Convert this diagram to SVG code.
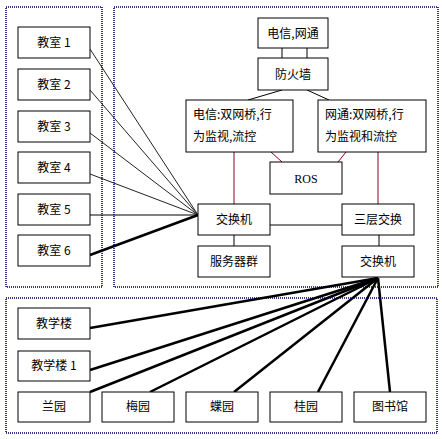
<svg xmlns="http://www.w3.org/2000/svg" width="442" height="439" viewBox="0 0 442 439">
<style>
.bx{fill:#fff;stroke:#000;stroke-width:1}
.zone{fill:none;stroke:#3a3a8c;stroke-width:2;stroke-dasharray:1 1}
text{font-family:"Noto Sans CJK SC","Liberation Sans",sans-serif;font-size:12px;fill:#000}
.c{text-anchor:middle}
.thin{stroke:#222;stroke-width:1;fill:none}
.thick{stroke:#000;stroke-width:2.5;fill:none}
.red{stroke:#900020;stroke-width:1;fill:none}
.blk{stroke:#000;stroke-width:1;fill:none}
</style>
<rect width="442" height="439" fill="#fff"/>
<g id="zones">
<rect class="zone" x="6" y="7" width="96" height="280"/>
<rect class="zone" x="114" y="7" width="324" height="280"/>
<rect class="zone" x="6" y="298" width="431" height="135"/>
</g>
<g id="connectors">
<line class="thin" x1="90" y1="49" x2="198" y2="215"/>
<line class="thin" x1="90" y1="90" x2="198" y2="215"/>
<line class="thin" x1="90" y1="133" x2="198" y2="215"/>
<line class="thin" x1="90" y1="174" x2="198" y2="215"/>
<line class="blk" x1="90" y1="215" x2="198" y2="215"/>
<line class="thick" x1="90" y1="255" x2="198" y2="215"/>
<line class="blk" x1="282" y1="48" x2="282" y2="58"/>
<line class="blk" x1="307" y1="48" x2="307" y2="58"/>
<line class="blk" x1="282" y1="90" x2="248" y2="100"/>
<line class="blk" x1="307" y1="90" x2="329" y2="100"/>
<line class="red" x1="234" y1="152" x2="234" y2="204"/>
<line class="red" x1="378" y1="152" x2="378" y2="204"/>
<line class="red" x1="271" y1="152" x2="282" y2="162"/>
<line class="red" x1="346" y1="152" x2="338" y2="162"/>
<line class="blk" x1="270" y1="225" x2="342" y2="225"/>
<line class="blk" x1="234" y1="235" x2="234" y2="246"/>
<line class="blk" x1="379" y1="235" x2="379" y2="246"/>
<line class="thick" x1="378" y1="278" x2="90" y2="328"/>
<line class="thick" x1="378" y1="278" x2="90" y2="370"/>
<line class="thick" x1="378" y1="278" x2="90" y2="392"/>
<line class="thick" x1="378" y1="278" x2="150" y2="392"/>
<line class="thick" x1="378" y1="278" x2="234" y2="392"/>
<line class="thick" x1="378" y1="278" x2="318" y2="392"/>
<line class="thick" x1="378" y1="278" x2="390" y2="392"/>
</g>
<g id="n_c1"><rect class="bx" x="18" y="27" width="72" height="31"/><text class="c" x="54" y="47">教室 1</text></g>
<g id="n_c2"><rect class="bx" x="18" y="69" width="72" height="31"/><text class="c" x="54" y="89">教室 2</text></g>
<g id="n_c3"><rect class="bx" x="18" y="111" width="72" height="31"/><text class="c" x="54" y="131">教室 3</text></g>
<g id="n_c4"><rect class="bx" x="18" y="152" width="72" height="31"/><text class="c" x="54" y="172">教室 4</text></g>
<g id="n_c5"><rect class="bx" x="18" y="194" width="72" height="31"/><text class="c" x="54" y="214">教室 5</text></g>
<g id="n_c6"><rect class="bx" x="18" y="235" width="72" height="31"/><text class="c" x="54" y="255">教室 6</text></g>
<g id="n_isp"><rect class="bx" x="258" y="18" width="70" height="30"/><text class="c" x="293" y="38">电信,网通</text></g>
<g id="n_fw"><rect class="bx" x="258" y="58" width="70" height="32"/><text class="c" x="293" y="79">防火墙</text></g>
<g id="n_dx"><rect class="bx" x="186" y="100" width="107" height="52"/><text x="193" y="119">电信:双网桥,行</text><text x="193" y="141">为监视,流控</text></g>
<g id="n_wt"><rect class="bx" x="318" y="100" width="108" height="52"/><text x="325" y="119">网通:双网桥,行</text><text x="325" y="141">为监视和流控</text></g>
<g id="n_ros"><rect class="bx" x="270" y="162" width="72" height="32"/><text class="c" x="306" y="183" style="font-family:'Liberation Serif',serif">ROS</text></g>
<g id="n_sw1"><rect class="bx" x="198" y="204" width="72" height="31"/><text class="c" x="234" y="224">交换机</text></g>
<g id="n_srv"><rect class="bx" x="198" y="246" width="72" height="31"/><text class="c" x="234" y="266">服务器群</text></g>
<g id="n_l3"><rect class="bx" x="342" y="204" width="72" height="31"/><text class="c" x="378" y="224">三层交换</text></g>
<g id="n_sw2"><rect class="bx" x="342" y="246" width="72" height="31"/><text class="c" x="378" y="266">交换机</text></g>
<g id="n_jxl"><rect class="bx" x="18" y="308" width="72" height="31"/><text class="c" x="54" y="328">教学楼</text></g>
<g id="n_jxl1"><rect class="bx" x="18" y="351" width="72" height="30"/><text class="c" x="54" y="370">教学楼 1</text></g>
<g id="n_ly"><rect class="bx" x="18" y="392" width="72" height="30"/><text class="c" x="54" y="411">兰园</text></g>
<g id="n_my"><rect class="bx" x="102" y="392" width="72" height="30"/><text class="c" x="138" y="411">梅园</text></g>
<g id="n_dy"><rect class="bx" x="186" y="392" width="72" height="30"/><text class="c" x="222" y="411">蝶园</text></g>
<g id="n_gy"><rect class="bx" x="270" y="392" width="72" height="30"/><text class="c" x="306" y="411">桂园</text></g>
<g id="n_tsg"><rect class="bx" x="354" y="392" width="72" height="30"/><text class="c" x="390" y="411">图书馆</text></g>
</svg>
